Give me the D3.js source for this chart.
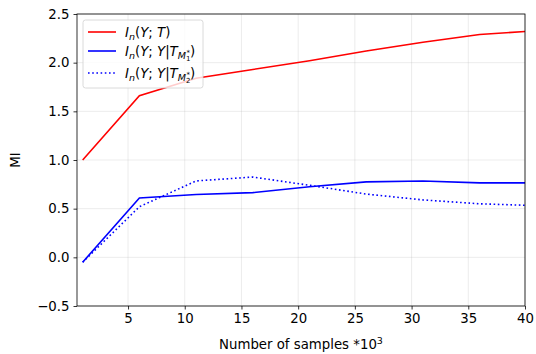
<!doctype html>
<html>
<head>
<meta charset="UTF-8">
<script src="https://d3js.org/d3.v7.min.js"></script>
<style>
  body { margin: 0; background: #fff; }
  text { font-family: "DejaVu Sans", sans-serif; }
</style>
</head>
<body>
<script>
var samples = [1, 6, 11, 16, 21, 26, 31, 36, 40];
var miT = [1.00, 1.66, 1.84, 1.93, 2.02, 2.12, 2.21, 2.29, 2.32];
var miM1 = [-0.05, 0.61, 0.645, 0.665, 0.725, 0.775, 0.785, 0.765, 0.765];
var miM2 = [-0.05, 0.52, 0.785, 0.825, 0.74, 0.65, 0.59, 0.55, 0.535];
var xTicks = [5, 10, 15, 20, 25, 30, 35, 40];
var yTicks = [-0.5, 0.0, 0.5, 1.0, 1.5, 2.0, 2.5];

var width = 536, height = 354,
    pLeft = 77, pRight = 525, pTop = 14, pBottom = 306;

var x = d3.scaleLinear().domain([0.5, 40]).range([pLeft, pRight]);
var y = d3.scaleLinear().domain([-0.5, 2.5]).range([pBottom, pTop]);

var svg = d3.select("body").append("svg")
    .attr("width", width)
    .attr("height", height);

// grid
svg.append("g").selectAll("line").data(xTicks).enter().append("line")
    .attr("x1", function(d){ return x(d); })
    .attr("x2", function(d){ return x(d); })
    .attr("y1", pTop).attr("y2", pBottom)
    .attr("stroke", "#b0b0b0").attr("stroke-opacity", 0.3).attr("stroke-width", 0.8);
svg.append("g").selectAll("line").data(yTicks).enter().append("line")
    .attr("y1", function(d){ return y(d); })
    .attr("y2", function(d){ return y(d); })
    .attr("x1", pLeft).attr("x2", pRight)
    .attr("stroke", "#b0b0b0").attr("stroke-opacity", 0.3).attr("stroke-width", 0.8);

// axes
var xAxis = svg.append("g").attr("transform", "translate(0," + pBottom + ")")
    .call(d3.axisBottom(x).tickValues(xTicks).tickSize(3.5).tickPadding(4).tickFormat(d3.format("d")));
var yAxis = svg.append("g").attr("transform", "translate(" + pLeft + ",0)")
    .call(d3.axisLeft(y).tickValues(yTicks).tickSize(3.5).tickPadding(4)
        .tickFormat(function(d){ return d < 0 ? "\u2212" + Math.abs(d).toFixed(1) : d.toFixed(1); }));
[xAxis, yAxis].forEach(function(g){
    g.select(".domain").remove();
    g.selectAll("text").attr("font-size", 13.3).attr("fill", "#000")
        .style("font-family", "DejaVu Sans, sans-serif");
    g.selectAll("line").attr("stroke", "#000").attr("stroke-width", 0.8);
});

// lines
svg.append("clipPath").attr("id", "clip").append("rect")
    .attr("x", pLeft).attr("y", pTop).attr("width", pRight - pLeft).attr("height", pBottom - pTop);

var line = function(vals) {
    return d3.line()
        .x(function(d, i){ return x(samples[i]); })
        .y(function(d){ return y(d); })(vals);
};

var plot = svg.append("g").attr("clip-path", "url(#clip)");
plot.append("path").attr("d", line(miT)).attr("fill", "none")
    .attr("stroke", "#ff0000").attr("stroke-width", 1.6);
plot.append("path").attr("d", line(miM1)).attr("fill", "none")
    .attr("stroke", "#0000ff").attr("stroke-width", 1.6);
plot.append("path").attr("d", line(miM2)).attr("fill", "none")
    .attr("stroke", "#0000ff").attr("stroke-width", 1.6).attr("stroke-dasharray", "1.6,2.6");

// frame
svg.append("rect").attr("x", pLeft).attr("y", pTop)
    .attr("width", pRight - pLeft).attr("height", pBottom - pTop)
    .attr("fill", "none").attr("stroke", "#000").attr("stroke-width", 0.8);

// axis labels
svg.append("text").attr("x", (pLeft + pRight) / 2).attr("y", 349)
    .attr("text-anchor", "middle").attr("font-size", 13.3)
    .html('Number of samples *10<tspan font-size="9.5" dy="-5">3</tspan>');
svg.append("text").attr("transform", "translate(20," + ((pTop + pBottom) / 2) + ") rotate(-90)")
    .attr("text-anchor", "middle").attr("font-size", 13.3).text("MI");

// legend
var legend = svg.append("g");
legend.append("rect").attr("x", 83).attr("y", 20).attr("width", 120).attr("height", 68)
    .attr("rx", 2.5).attr("fill", "#fff").attr("fill-opacity", 0.8)
    .attr("stroke", "#d0d0d0").attr("stroke-width", 0.8);

var legendRows = [
    { y: 32, color: "#ff0000", dash: null, sub: null },
    { y: 51, color: "#0000ff", dash: null, sub: "1" },
    { y: 73, color: "#0000ff", dash: "1.6,2.6", sub: "2" }
];
legendRows.forEach(function(r){
    legend.append("line").attr("x1", 88).attr("x2", 116).attr("y1", r.y).attr("y2", r.y)
        .attr("stroke", r.color).attr("stroke-width", 1.6)
        .attr("stroke-dasharray", r.dash);
    var head = '<tspan font-style="italic">I</tspan><tspan font-style="italic" font-size="9.5" dy="3">n</tspan>' +
        '<tspan dy="-3">(</tspan><tspan font-style="italic">Y</tspan>; ';
    var label = r.sub === null
        ? head + '<tspan font-style="italic">T</tspan>)'
        : head + '<tspan font-style="italic">Y</tspan>|<tspan font-style="italic">T</tspan>' +
          '<tspan font-style="italic" font-size="9.5" dy="3">M</tspan><tspan font-size="7" dy="2">' + r.sub +
          '</tspan><tspan font-size="7" dx="-4" dy="-6">*</tspan><tspan dy="1">)</tspan>';
    legend.append("text").attr("x", 125).attr("y", r.y + 5).attr("font-size", 13.3).html(label);
});
</script>
</body>
</html>
